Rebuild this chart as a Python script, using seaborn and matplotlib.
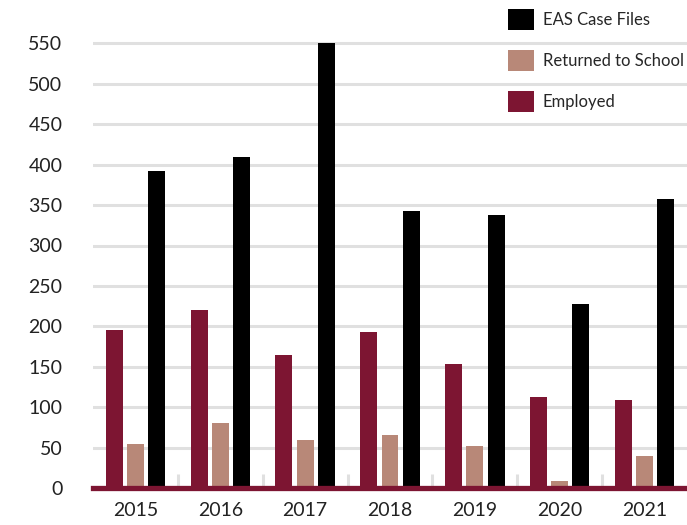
import matplotlib
matplotlib.use("Agg")
import matplotlib.pyplot as plt
import seaborn as sns
import pandas as pd
from matplotlib.patches import Patch

years = ["2015", "2016", "2017", "2018", "2019", "2020", "2021"]
employed = [195, 220, 164, 193, 153, 112, 109]
returned = [54, 80, 60, 66, 52, 9, 39]
eas_case_files = [392, 410, 550, 343, 338, 228, 358]
y_ticks = [0, 50, 100, 150, 200, 250, 300, 350, 400, 450, 500, 550]

series = ["Employed", "Returned to School", "EAS Case Files"]
colors = {"Employed": "#7D1532", "Returned to School": "#B88878", "EAS Case Files": "#000000"}

df = pd.DataFrame({
    "Year": years * 3,
    "Value": employed + returned + eas_case_files,
    "Series": [s for s in series for _ in years],
})

sns.set_theme(style="white")
plt.rcParams["font.family"] = ["Lato", "DejaVu Sans"]

fig = plt.figure(figsize=(6.87, 5.25), dpi=100)
ax = fig.add_axes([93 / 687, 37 / 525, 594 / 687, 485 / 525])

sns.barplot(data=df, x="Year", y="Value", hue="Series", hue_order=series,
            palette=colors, width=0.75, gap=0.2, ax=ax, legend=False,
            saturation=1, linewidth=0)

ax.set_ylim(0, 600)
ax.set_xlim(-0.5, 6.5)
ax.set_yticks(y_ticks)
ax.set_yticklabels([str(t) for t in y_ticks])
ax.grid(axis="y", color="#E0E0E0", linewidth=2.2)
ax.set_axisbelow(True)
ax.set_xlabel("")
ax.set_ylabel("")

for s in ["top", "right", "left"]:
    ax.spines[s].set_visible(False)
ax.spines["bottom"].set_color("#7D1532")
ax.spines["bottom"].set_linewidth(3.8)
ax.spines["bottom"].set_zorder(5)

ax.tick_params(axis="y", length=0, labelsize=14, pad=22, labelcolor="#222222")
ax.tick_params(axis="x", length=0, labelsize=14, pad=10, labelcolor="#222222")
ax.set_xticks([0.5, 1.5, 2.5, 3.5, 4.5, 5.5], minor=True)
ax.tick_params(axis="x", which="minor", direction="in", length=10, width=2.2,
               color="#E0E0E0", bottom=True)
for t in ax.xaxis.get_minor_ticks():
    t.tick1line.set_zorder(6)

handles = [Patch(facecolor=colors[s], edgecolor="none") for s in reversed(series)]
fig.legend(handles, list(reversed(series)), loc="upper left",
           bbox_to_anchor=(508 / 687, 1 - 9 / 525), bbox_transform=fig.transFigure,
           frameon=False, fontsize=12, handlelength=1.55, handleheight=1.55,
           handletextpad=0.55, labelspacing=1.22, borderpad=0, borderaxespad=0)

fig.savefig("out.png", dpi=100)
